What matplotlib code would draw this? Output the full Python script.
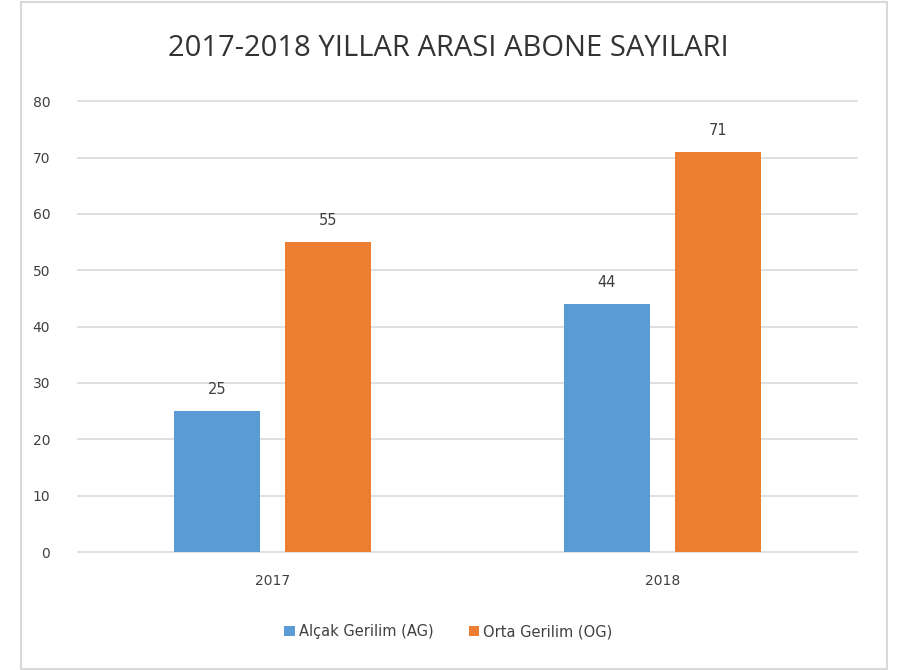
import numpy as np
import matplotlib.pyplot as plt
from matplotlib.patches import Rectangle

plt.rcParams['font.family'] = ['DejaVu Sans']

# Veriler
yillar = ['2017', '2018']
alcak = [25, 44]
orta = [55, 71]
seriler = ['Alçak Gerilim (AG)', 'Orta Gerilim (OG)']
renkler = ['#5B9BD5', '#ED7D31']

fig = plt.figure(figsize=(8.97, 6.7), dpi=100)
ax = fig.add_axes([0.087, 0.176, 0.8684, 0.673])

x = np.arange(len(yillar))
w = 0.221
off = 0.1425
b1 = ax.bar(x - off, alcak, w, color=renkler[0], label=seriler[0], zorder=3)
b2 = ax.bar(x + off, orta, w, color=renkler[1], label=seriler[1], zorder=3)

for bars in (b1, b2):
    for b in bars:
        ax.annotate(f'{int(b.get_height())}', (b.get_x() + b.get_width() / 2, b.get_height()),
                    xytext=(0, 10), textcoords='offset points', ha='center', va='bottom',
                    fontsize=10.5, color='#404040', family='DejaVu Sans')

ax.set_xlim(-0.5, 1.5)
ax.set_ylim(0, 80)
ax.set_yticks(range(0, 81, 10))
ax.set_xticks(x)
ax.set_xticklabels(yillar)
ax.yaxis.grid(True, color='#D9D9D9', linewidth=1.2, zorder=0)
for gl in ax.get_ygridlines():
    gl.set_clip_on(False)
ax.set_axisbelow(True)
for s in ax.spines.values():
    s.set_visible(False)
ax.tick_params(axis='both', length=0, labelsize=10, labelcolor='#404040')
ax.tick_params(axis='y', pad=20)
ax.tick_params(axis='x', pad=16)

fig.text(0.5, 0.927, '2017-2018 YILLAR ARASI ABONE SAYILARI', ha='center', va='center',
         fontsize=21, color='#333333', family='Open Sans')

fig.legend(loc='center', bbox_to_anchor=(0.5, 0.057), ncol=2, frameon=False,
           fontsize=10.5, handlelength=0.7, handleheight=0.7, handletextpad=0.3,
           columnspacing=2.4, labelcolor='#404040')

fig.patches.append(Rectangle((21 / 897, 1 / 670), 866 / 897, 667 / 670, transform=fig.transFigure,
                             fill=False, edgecolor='#D9D9D9', linewidth=1.5))

fig.savefig('out.png', dpi=100)
